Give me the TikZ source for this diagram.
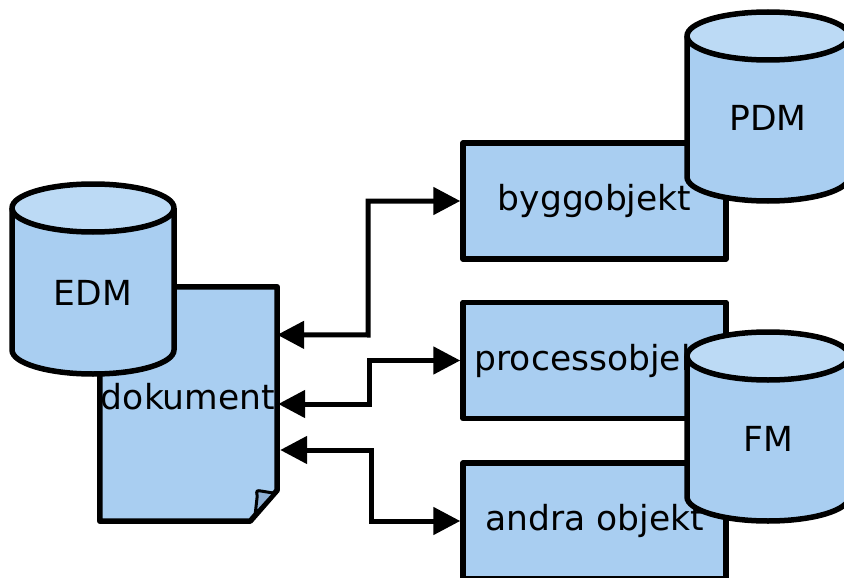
\documentclass[tikz,border=0pt]{standalone}
\usepackage{fontspec}
\setmainfont{DejaVu Sans}
\usetikzlibrary{arrows.meta,calc}

\definecolor{boxfill}{HTML}{A9CEF1}
\definecolor{cyltop}{HTML}{BCDAF5}
\definecolor{flapfill}{HTML}{8FB0D4}

\tikzset{
  outline/.style={draw=black, line width=5.5pt, line join=round},
  objbox/.style={outline, fill=boxfill, minimum width=263pt, minimum height=116pt,
    inner sep=0pt, font=\fontsize{34.5}{40}\selectfont},
  lbl/.style={inner sep=0pt, font=\fontsize{34.5}{40}\selectfont},
  biarrow/.style={line width=5pt, line join=miter,
    {Triangle[length=27pt,width=27pt]}-{Triangle[length=27pt,width=27pt]}},
}

% database cylinder: #1 name, #2 centre x, #3 top face y, #4 bottom face y, #5 label y, #6 label
\newcommand\dbcylinder[6]{%
  \fill[boxfill] (#2-81,#3) -- (#2-81,#4)
    arc[start angle=180, end angle=0, x radius=81, y radius=24]
    -- (#2+81,#3) arc[start angle=0, end angle=-180, x radius=81, y radius=24] -- cycle;
  \draw[outline] (#2-81,#3) -- (#2-81,#4)
    arc[start angle=180, end angle=0, x radius=81, y radius=24] -- (#2+81,#3);
  \draw[outline, fill=cyltop] (#2,#3) ellipse[x radius=81, y radius=24];
  \node[lbl] (#1) at (#2,#5) {#6};
}

\begin{document}
\begin{tikzpicture}[x=1pt, y=-1pt]
  \useasboundingbox (0,0) rectangle (844,578);

  % document with folded corner
  \node[minimum width=177pt, minimum height=234pt, inner sep=0pt] (doc) at (188.5,404) {};
  \draw[outline, fill=boxfill] (doc.north west) -- (doc.north east)
    -- ([yshift=31pt]doc.south east) -- ([xshift=-27pt]doc.south east)
    -- (doc.south west) -- cycle;
  \filldraw[fill=flapfill, draw=black, line width=3pt, line join=round]
    ([xshift=-3pt,yshift=28pt]doc.south east)
    -- ([xshift=-15pt,yshift=30pt]doc.south east)
    .. controls ([xshift=-21pt,yshift=31pt]doc.south east) .. ([xshift=-20pt,yshift=25pt]doc.south east)
    -- ([xshift=-22pt,yshift=7pt]doc.south east) -- cycle;
  \node[lbl] (doctext) at (188,397) {dokument};

  \dbcylinder{edm}{93}{208}{350}{293}{EDM}

  % object boxes
  \node[objbox] (bygg) at (594.5,201) {byggobjekt};
  \node[objbox] (proc) at (594.5,360.5) {processobjekt};
  \node[objbox] (andra) at (594.5,521) {andra objekt};

  \dbcylinder{pdm}{768}{36}{177}{118}{PDM}
  \dbcylinder{fm}{768}{356}{497}{439}{FM}

  % links between the document and the objects
  \draw[biarrow] ($(doc.north east)+(0,48)$) -- (368,335) |- (bygg.west);
  \draw[biarrow] ($(doc.east)+(1,0)$) -- (369,404) |- (proc.west);
  \draw[biarrow] ($(doc.east)+(3,46)$) -- (371,450) |- (andra.west);
\end{tikzpicture}
\end{document}
